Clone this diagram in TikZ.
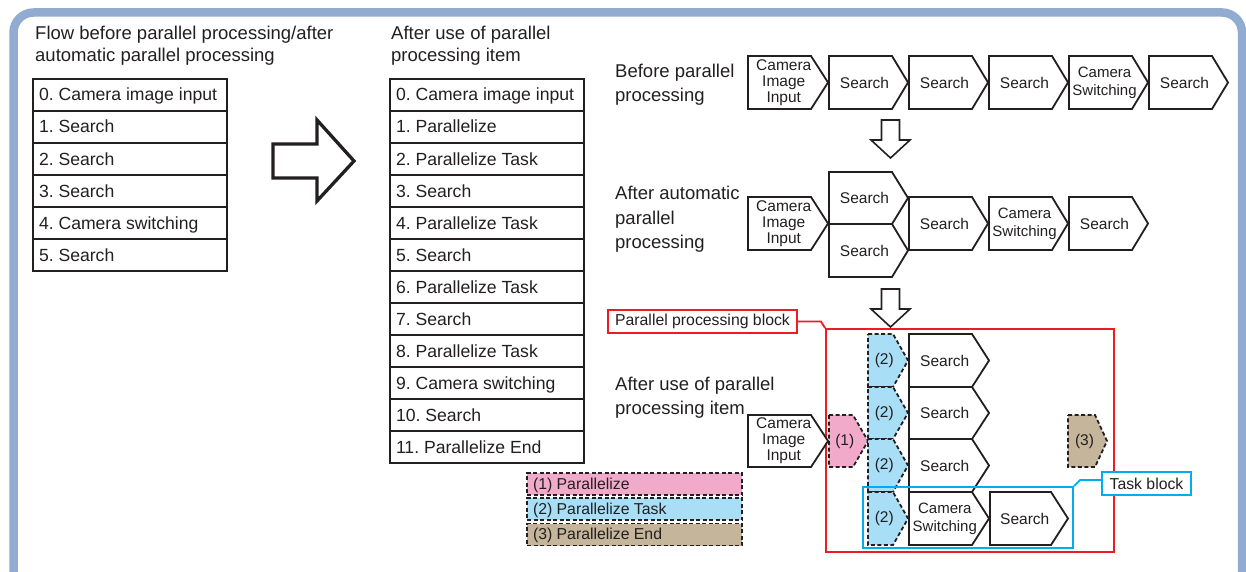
\documentclass[tikz,border=0pt]{standalone}
\usepackage{fontspec}
\setmainfont{Liberation Sans}
\frenchspacing
\definecolor{framec}{RGB}{145,171,209}
\definecolor{ink}{RGB}{35,31,32}
\definecolor{pinkc}{RGB}{242,170,202}
\definecolor{bluec}{RGB}{168,222,246}
\definecolor{tanc}{RGB}{197,181,155}
\definecolor{redc}{RGB}{237,28,36}
\definecolor{cyanc}{RGB}{0,174,239}
\tikzset{
  pentline/.style={draw=ink, line width=1.8pt, fill=white, line join=miter},
  dashpent/.style={draw=ink, line width=1.8pt, dash pattern=on 4pt off 2.5pt, line join=miter},
  boxtxt/.style={font=\fontsize{15.5}{16}\selectfont, align=center, inner sep=0pt, text=ink},
  swtxt/.style={font=\fontsize{15}{18}\selectfont, align=center, inner sep=0pt, text=ink},
  titletxt/.style={font=\fontsize{18.5}{22}\selectfont, anchor=base west, inner sep=0pt, text=ink},
  listrow/.style={draw=ink, line width=2.4pt, minimum width=194pt, minimum height=32pt,
     text width=182pt, align=flush left, inner xsep=6pt, inner ysep=0pt, text height=13pt,
     text depth=1pt, font=\fontsize{17.6}{20}\selectfont\frenchspacing, text=ink},
  legendbox/.style={draw=ink, line width=1.8pt, dash pattern=on 4pt off 2.5pt,
     minimum width=215pt, minimum height=22pt, text width=203pt, align=flush left,
     inner xsep=6pt, inner ysep=0pt, text height=11.5pt, text depth=1.5pt,
     font=\fontsize{15.8}{18}\selectfont, text=ink},
  calloutred/.style={draw=redc, line width=1.8pt, fill=white, minimum width=189pt,
     minimum height=23pt, inner sep=0pt, font=\fontsize{15.8}{18}\selectfont, text=ink},
  calloutcyan/.style={draw=cyanc, line width=1.8pt, fill=white, minimum width=89pt,
     minimum height=23pt, inner sep=0pt, font=\fontsize{15.8}{18}\selectfont, text=ink},
  hollowarrow/.style={draw=ink, line width=1.6pt, fill=white, line join=miter},
}
% name, style, x1, ytop, xstraight, xtip, ybottom, text, text style
\newcommand{\pentbox}[9]{%
  \draw[#2] (#3,#4) -- (#5,#4) -- (#6,{(#4+#7)/2}) -- (#5,#7) -- (#3,#7) -- cycle;
  \node[#9] (#1) at ({(#3+(#5+#6)/2)/2},{(#4+#7)/2}) {#8};
}
\begin{document}
\begin{tikzpicture}[x=1pt,y=-1pt]
\useasboundingbox (0,0) rectangle (1246,572);
\draw[framec, line width=8.5pt, rounded corners=20pt] (13.5,12.5) rectangle (1242,595);

% titles
\node[titletxt] (t1a) at (35,40) {Flow before parallel processing/after};
\node[titletxt] (t1b) at (35,62) {automatic parallel processing};
\node[titletxt] (t2a) at (391,40) {After use of parallel};
\node[titletxt] (t2b) at (391,62) {processing item};

% left list
\foreach \i/\t in {0/{0. Camera image input},1/{1. Search},2/{2. Search},3/{3. Search},
                   4/{4. Camera switching},5/{5. Search}}
  \node[listrow] (A\i) at (130,{95+32*\i}) {\t};

% middle list
\foreach \i/\t in {0/{0. Camera image input},1/{1. Parallelize},2/{2. Parallelize Task},
                   3/{3. Search},4/{4. Parallelize Task},5/{5. Search},6/{6. Parallelize Task},
                   7/{7. Search},8/{8. Parallelize Task},9/{9. Camera switching},
                   10/{10. Search},11/{11. Parallelize End}}
  \node[listrow] (B\i) at (487,{95+32*\i}) {\t};

% big arrow
\draw[ink, line width=3.3pt, line join=miter, fill=white]
  (273,144) -- (317,144) -- (317,120) -- (354,161) -- (317,201) -- (317,178) -- (273,178) -- cycle;

% row labels
\node[titletxt] (r1a) at (615,78) {Before parallel};
\node[titletxt] (r1b) at (615,102) {processing};
\node[titletxt] (r2a) at (615,200) {After automatic};
\node[titletxt] (r2b) at (615,224) {parallel};
\node[titletxt] (r2c) at (615,248) {processing};
\node[titletxt] (r3a) at (615,390) {After use of parallel};
\node[titletxt] (r3b) at (615,414) {processing item};

% row 1
\pentbox{c1}{pentline}{748}{56}{811}{828}{109}{Camera\\Image\\Input}{boxtxt}
\pentbox{s1}{pentline}{829}{56}{892}{908}{109}{Search}{boxtxt}
\pentbox{s2}{pentline}{909}{56}{972}{988}{109}{Search}{boxtxt}
\pentbox{s3}{pentline}{989}{56}{1052}{1068}{109}{Search}{boxtxt}
\pentbox{w1}{pentline}{1069}{56}{1132}{1148}{109}{Camera\\Switching}{swtxt}
\pentbox{s4}{pentline}{1149}{56}{1212}{1228}{109}{Search}{boxtxt}

% arrow 1
\draw[hollowarrow] (881.5,120) -- (899.5,120) -- (899.5,140) -- (910,140) -- (890.5,158)
  -- (871,140) -- (881.5,140) -- cycle;

% row 2
\pentbox{c2}{pentline}{748}{197}{811}{828}{250}{Camera\\Image\\Input}{boxtxt}
\pentbox{s5}{pentline}{829}{172}{892}{908}{224}{Search}{boxtxt}
\pentbox{s6}{pentline}{829}{224}{892}{908}{277}{Search}{boxtxt}
\pentbox{s7}{pentline}{909}{197}{972}{988}{250}{Search}{boxtxt}
\pentbox{w2}{pentline}{989}{197}{1052}{1068}{250}{Camera\\Switching}{swtxt}
\pentbox{s8}{pentline}{1069}{197}{1132}{1148}{250}{Search}{boxtxt}

% arrow 2
\draw[hollowarrow] (881.5,289) -- (899.5,289) -- (899.5,309) -- (910,309) -- (890.5,327)
  -- (871,309) -- (881.5,309) -- cycle;

% parallel processing block
\node[draw=redc, line width=1.8pt, minimum width=288pt, minimum height=223pt, inner sep=0pt]
  (pblock) at (970,440.5) {};
\node[calloutred] (ppb) at (702.5,321.5) {Parallel processing block};
\draw[redc, line width=1.8pt] (ppb.east) -- (821,321.5) -- (pblock.north west);

% row 3
\pentbox{c3}{pentline}{748}{415}{811}{828}{467}{Camera\\Image\\Input}{boxtxt}
\pentbox{p1}{dashpent, fill=pinkc}{829}{415}{853}{868}{467}{(1)}{boxtxt}
\pentbox{k1}{dashpent, fill=bluec}{868}{334}{893}{908}{387}{(2)}{boxtxt}
\pentbox{k2}{dashpent, fill=bluec}{868}{387}{893}{908}{439}{(2)}{boxtxt}
\pentbox{k3}{dashpent, fill=bluec}{868}{439}{893}{908}{492}{(2)}{boxtxt}
\pentbox{k4}{dashpent, fill=bluec}{868}{492}{893}{908}{545}{(2)}{boxtxt}
\pentbox{s9}{pentline}{909}{334}{972}{989}{387}{Search}{boxtxt}
\pentbox{s10}{pentline}{909}{387}{972}{989}{439}{Search}{boxtxt}
\pentbox{s11}{pentline}{909}{439}{972}{989}{492}{Search}{boxtxt}
\pentbox{w3}{pentline}{909}{492}{972}{989}{545}{Camera\\Switching}{swtxt}
\pentbox{s12}{pentline}{990}{492}{1051}{1068}{545}{Search}{boxtxt}
\pentbox{e1}{dashpent, fill=tanc}{1068}{415}{1095}{1107}{467}{(3)}{boxtxt}

% task block
\node[draw=cyanc, line width=1.8pt, minimum width=210pt, minimum height=61pt, inner sep=0pt]
  (tblock) at (968,517.5) {};
\node[calloutcyan] (tbl) at (1146.5,483.5) {Task block};
\draw[cyanc, line width=1.8pt] (tblock.north east) -- (1080,480) -- (tbl.west |- 0,480);

% legend
\node[legendbox, fill=pinkc] (lg1) at (634.5,484) {(1) Parallelize};
\node[legendbox, fill=bluec] (lg2) at (634.5,509) {(2) Parallelize Task};
\node[legendbox, fill=tanc] (lg3) at (634.5,534.5) {(3) Parallelize End};
\end{tikzpicture}
\end{document}
